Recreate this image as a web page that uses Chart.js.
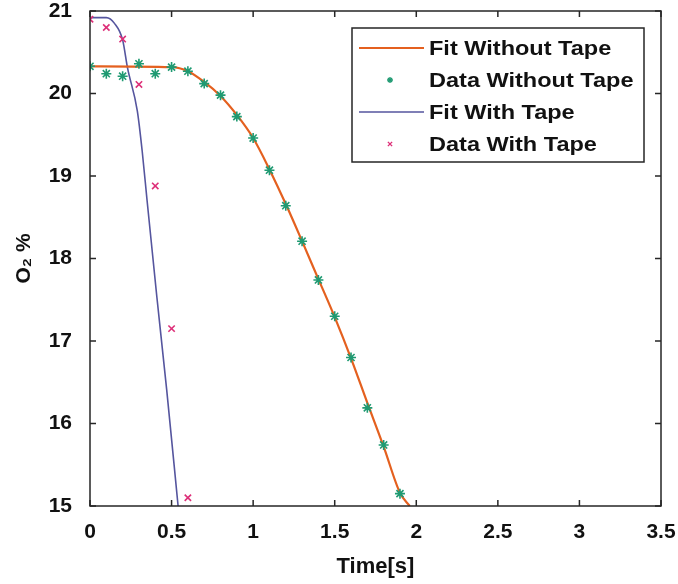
<!DOCTYPE html>
<html>
<head>
<meta charset="utf-8">
<script src="https://cdn.jsdelivr.net/npm/chart.js@4.4.1/dist/chart.umd.min.js"></script>
<style>
  html, body { margin: 0; padding: 0; background: #ffffff; }
  #wrap { width: 678px; height: 584px; }
</style>
</head>
<body>
<div id="wrap"><canvas id="chart" width="678" height="584"></canvas></div>
<script>
var timeNoTape = [0, 0.1, 0.2, 0.3, 0.4, 0.5, 0.6, 0.7, 0.8, 0.9, 1.0, 1.1, 1.2, 1.3, 1.4, 1.5, 1.6, 1.7, 1.8, 1.9]
var o2NoTape = [20.33, 20.24, 20.21, 20.36, 20.24, 20.32, 20.27, 20.12, 19.98, 19.72, 19.46, 19.07, 18.64, 18.21, 17.74, 17.30, 16.80, 16.19, 15.74, 15.15]

var timeTape = [0, 0.1, 0.2, 0.3, 0.4, 0.5, 0.6]
var o2Tape = [20.90, 20.80, 20.66, 20.11, 18.88, 17.15, 15.10]

// fitted curves
var fitTimeNoTape = [0, 0.5, 0.6, 0.7, 0.8, 0.9, 1.0, 1.1, 1.2, 1.3, 1.4, 1.5, 1.6, 1.7, 1.8, 1.9, 1.96]
var fitO2NoTape = [20.33, 20.32, 20.27, 20.14, 19.97, 19.74, 19.46, 19.08, 18.66, 18.21, 17.75, 17.29, 16.79, 16.25, 15.72, 15.16, 15.0]

var fitTimeTape = [0, 0.1, 0.15, 0.2, 0.23, 0.29, 0.32, 0.35, 0.41, 0.47, 0.54]
var fitO2Tape = [20.92, 20.92, 20.85, 20.65, 20.31, 19.79, 19.3, 18.7, 17.53, 16.41, 15.0]

var xTicks = [0, 0.5, 1, 1.5, 2, 2.5, 3, 3.5]
var yTicks = [15, 16, 17, 18, 19, 20, 21]

function toPoints(xs, ys) {
    var pts = []
    for (var i = 0; i < xs.length; i++) {
        pts.push({ x: xs[i], y: ys[i] })
    }
    return pts
}

var orange = '#e4601f'
var green = '#1f9a72'
var slate = '#55559e'
var pink = '#dd2f78'
var fontFamily = 'Arial, "Liberation Sans", sans-serif'
var labelFont = { family: fontFamily, size: 21, weight: 'bold' }

// box round the plot plus inward ticks on all four sides
var boxPlugin = {
    id: 'box',
    afterDatasetsDraw: function (chart) {
        var ctx = chart.ctx
        var a = chart.chartArea
        var xs = chart.scales.x
        var ys = chart.scales.y
        ctx.save()
        ctx.strokeStyle = '#262626'
        ctx.lineWidth = 1.5
        ctx.strokeRect(a.left, a.top, a.right - a.left, a.bottom - a.top)
        ctx.beginPath()
        xTicks.forEach(function (v) {
            var px = xs.getPixelForValue(v)
            ctx.moveTo(px, a.bottom); ctx.lineTo(px, a.bottom - 6)
            ctx.moveTo(px, a.top); ctx.lineTo(px, a.top + 6)
        })
        yTicks.forEach(function (v) {
            var py = ys.getPixelForValue(v)
            ctx.moveTo(a.left, py); ctx.lineTo(a.left + 6, py)
            ctx.moveTo(a.right, py); ctx.lineTo(a.right - 6, py)
        })
        ctx.stroke()
        ctx.restore()
    }
}

// legend box drawn inside the plot, like the matlab one
var legendPlugin = {
    id: 'boxLegend',
    afterDraw: function (chart) {
        var ctx = chart.ctx
        var left = 352, top = 28, right = 644, bottom = 162
        ctx.save()
        ctx.fillStyle = '#ffffff'
        ctx.fillRect(left, top, right - left, bottom - top)
        ctx.strokeStyle = '#262626'
        ctx.lineWidth = 1.5
        ctx.strokeRect(left, top, right - left, bottom - top)
        ctx.font = 'bold 21px ' + fontFamily
        ctx.textBaseline = 'middle'
        var rowY = [48, 80, 112, 144]
        chart.data.datasets.forEach(function (ds, i) {
            var y = rowY[i]
            if (ds.showLine) {
                ctx.strokeStyle = ds.borderColor
                ctx.lineWidth = ds.borderWidth
                ctx.beginPath()
                ctx.moveTo(359, y); ctx.lineTo(424, y)
                ctx.stroke()
            } else {
                ctx.strokeStyle = ds.borderColor
                ctx.fillStyle = ds.borderColor
                ctx.lineWidth = 1.4
                Chart.helpers.drawPoint(ctx, {
                    pointStyle: ds.pointStyle,
                    radius: 3,
                    borderWidth: 1.4,
                    rotation: 0
                }, 390, y)
            }
            // the source text is a little wider than Arial, stretch it
            ctx.save()
            ctx.translate(429, y + 1)
            ctx.scale(1.12, 1)
            ctx.fillStyle = '#111111'
            ctx.fillText(ds.label, 0, 0)
            ctx.restore()
        })
        ctx.restore()
    }
}

var ctx = document.getElementById('chart').getContext('2d')
var chart = new Chart(ctx, {
    type: 'scatter',
    data: {
        datasets: [{
            label: 'Fit Without Tape',
            data: toPoints(fitTimeNoTape, fitO2NoTape),
            showLine: true,
            borderColor: orange,
            borderWidth: 2.2,
            pointRadius: 0,
            cubicInterpolationMode: 'monotone',
            order: 2
        }, {
            label: 'Data Without Tape',
            data: toPoints(timeNoTape, o2NoTape),
            showLine: false,
            pointStyle: 'star',
            pointRadius: 5,
            borderColor: green,
            backgroundColor: green,
            pointBorderWidth: 1.6,
            order: 1
        }, {
            label: 'Fit With Tape',
            data: toPoints(fitTimeTape, fitO2Tape),
            showLine: true,
            borderColor: slate,
            borderWidth: 1.6,
            pointRadius: 0,
            cubicInterpolationMode: 'monotone',
            order: 2
        }, {
            label: 'Data With Tape',
            data: toPoints(timeTape, o2Tape),
            showLine: false,
            pointStyle: 'crossRot',
            pointRadius: 4.5,
            borderColor: pink,
            backgroundColor: pink,
            pointBorderWidth: 1.6,
            order: 1
        }]
    },
    options: {
        responsive: false,
        animation: false,
        devicePixelRatio: 1,
        layout: { padding: { left: 0, top: 11, right: 17, bottom: 0 } },
        plugins: {
            legend: { display: false },
            tooltip: { enabled: false }
        },
        scales: {
            x: {
                type: 'linear',
                min: 0,
                max: 3.5,
                afterFit: function (s) {
                    s.height = 78
                    s.paddingLeft = 0
                    s.paddingRight = 0
                },
                afterBuildTicks: function (s) { s.ticks = xTicks.map(function (v) { return { value: v } }) },
                grid: { display: false },
                border: { display: false },
                ticks: {
                    color: '#111111',
                    font: labelFont,
                    padding: 6,
                    maxRotation: 0,
                    callback: function (v) { return String(v) }
                },
                title: {
                    display: true,
                    text: 'Time[s]',
                    color: '#111111',
                    font: { family: fontFamily, size: 22, weight: 'bold' },
                    padding: { top: 4, bottom: 4 }
                }
            },
            y: {
                type: 'linear',
                min: 15,
                max: 21,
                afterFit: function (s) {
                    s.width = 90
                    s.paddingTop = 0
                    s.paddingBottom = 0
                },
                afterBuildTicks: function (s) { s.ticks = yTicks.map(function (v) { return { value: v } }) },
                grid: { display: false },
                border: { display: false },
                ticks: {
                    color: '#111111',
                    font: labelFont,
                    padding: 10
                },
                title: {
                    display: true,
                    text: 'O\u2082 %',
                    color: '#111111',
                    font: labelFont,
                    padding: { top: 12, bottom: 4 }
                }
            }
        }
    },
    plugins: [boxPlugin, legendPlugin]
})
</script>
</body>
</html>
